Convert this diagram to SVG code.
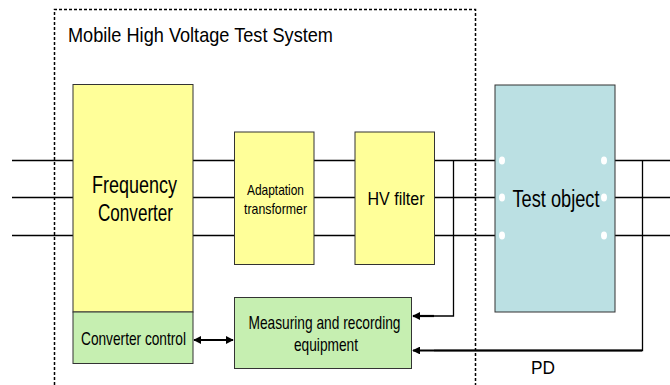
<svg xmlns="http://www.w3.org/2000/svg" width="670" height="385" viewBox="0 0 670 385">
  <style>
    .t { font-family: "Liberation Sans", Arial, sans-serif; fill: #000; }
    .box { stroke: #333; stroke-width: 1; }
    .yellow { fill: #FFFF99; }
    .green { fill: #C6EFB1; }
    .blue { fill: #BBE0E3; }
    .wire { stroke: #000; stroke-width: 1.3; fill: none; }
    .sig { stroke: #000; stroke-width: 2.2; fill: none; }
    .dot { fill: #fff; }
  </style>
  <defs>
    <marker id="ah" viewBox="0 0 10 10" refX="9" refY="5" markerWidth="3.6" markerHeight="3.6" orient="auto-start-reverse">
      <path d="M0,0 L10,5 L0,10 Z" fill="#000"/>
    </marker>
  </defs>
  <rect width="670" height="385" fill="#fff"/>

  <!-- system boundary -->
  <g id="system-boundary">
    <path d="M54.5,385 V9.5 H475.5 V385" fill="none" stroke="#000" stroke-width="1.5" stroke-dasharray="3,2"/>
    <text class="t" x="68" y="42" font-size="21" textLength="265" lengthAdjust="spacingAndGlyphs">Mobile High Voltage Test System</text>
  </g>

  <!-- power and signal wiring -->
  <g id="connectors">
    <path class="wire" d="M12,160.5 H73 M12,197.5 H73 M12,235.5 H73"/>
    <path class="wire" d="M193,160.5 H234 M193,197.5 H234 M193,235.5 H234"/>
    <path class="wire" d="M314,160.5 H355 M314,197.5 H355 M314,235.5 H355"/>
    <path class="wire" d="M434,160.5 H495 M434,197.5 H495 M434,235.5 H495"/>
    <path class="wire" d="M615,160.5 H670 M615,197.5 H670 M615,235.5 H670"/>
    <path class="wire" d="M453.5,160.5 V316 H434"/>
    <path class="sig" d="M434,316 H413" marker-end="url(#ah)"/>
    <path class="wire" d="M642.5,160.5 V350.5 H434"/>
    <path class="sig" d="M642,350.5 H413" marker-end="url(#ah)"/>
    <path class="sig" d="M194,340 H233" marker-start="url(#ah)" marker-end="url(#ah)"/>
  </g>

  <g id="frequency-converter">
    <rect class="box yellow" x="73" y="84.5" width="120" height="227.5"/>
    <text class="t" x="92" y="193" font-size="23" textLength="85" lengthAdjust="spacingAndGlyphs">Frequency</text>
    <text class="t" x="98" y="221" font-size="23" textLength="75" lengthAdjust="spacingAndGlyphs">Converter</text>
  </g>

  <g id="converter-control">
    <rect class="box green" x="73" y="312" width="120" height="51.5"/>
    <text class="t" x="81" y="345" font-size="19" textLength="105" lengthAdjust="spacingAndGlyphs">Converter control</text>
  </g>

  <g id="adaptation-transformer">
    <rect class="box yellow" x="234.5" y="132" width="79.5" height="132.5"/>
    <text class="t" x="247" y="195" font-size="15" textLength="57" lengthAdjust="spacingAndGlyphs">Adaptation</text>
    <text class="t" x="244" y="214" font-size="15" textLength="63" lengthAdjust="spacingAndGlyphs">transformer</text>
  </g>

  <g id="hv-filter">
    <rect class="box yellow" x="355" y="132" width="79.5" height="132.5"/>
    <text class="t" x="367.5" y="205" font-size="18" textLength="57" lengthAdjust="spacingAndGlyphs">HV filter</text>
  </g>

  <g id="test-object">
    <rect class="box blue" x="495" y="85" width="120" height="227"/>
    <text class="t" x="512.5" y="206.5" font-size="23" textLength="87" lengthAdjust="spacingAndGlyphs">Test object</text>
    <ellipse class="dot" cx="502" cy="160.5" rx="3" ry="4"/>
    <ellipse class="dot" cx="502" cy="197.5" rx="3" ry="4"/>
    <ellipse class="dot" cx="502" cy="235.5" rx="3" ry="4"/>
    <ellipse class="dot" cx="604" cy="160.5" rx="3" ry="4"/>
    <ellipse class="dot" cx="604" cy="197.5" rx="3" ry="4"/>
    <ellipse class="dot" cx="604" cy="235.5" rx="3" ry="4"/>
  </g>

  <g id="measuring-equipment">
    <rect class="box green" x="234.5" y="297.5" width="177" height="71"/>
    <text class="t" x="248.5" y="329" font-size="19" textLength="152" lengthAdjust="spacingAndGlyphs">Measuring and recording</text>
    <text class="t" x="294" y="351" font-size="19" textLength="64" lengthAdjust="spacingAndGlyphs">equipment</text>
  </g>

  <g id="pd-label">
    <text class="t" x="531" y="374" font-size="18" textLength="24" lengthAdjust="spacingAndGlyphs">PD</text>
  </g>
</svg>
